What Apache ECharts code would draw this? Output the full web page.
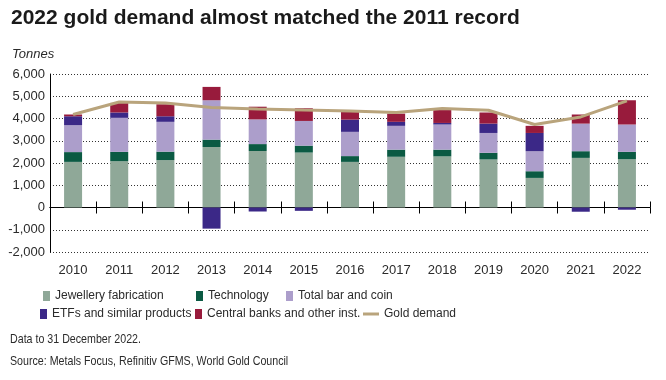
<!DOCTYPE html>
<html>
<head>
<meta charset="utf-8">
<script src="https://cdn.jsdelivr.net/npm/echarts@6/dist/echarts.min.js"></script>
<style>
html,body{margin:0;padding:0;background:#fff;}
#c{width:666px;height:380px;}
</style>
</head>
<body>
<div id="c"></div>
<script>
var years = ['2010','2011','2012','2013','2014','2015','2016','2017','2018','2019','2020','2021','2022'];
var jewellery = [2050, 2080, 2130, 2720, 2540, 2470, 2050, 2280, 2300, 2160, 1330, 2230, 2170];
var technology = [440, 420, 380, 330, 310, 310, 260, 320, 300, 300, 300, 300, 330];
var barCoin = [1210, 1530, 1340, 1770, 1110, 1110, 1090, 1070, 1130, 890, 900, 1240, 1230];
var etfs = [400, 240, 250, -950, -180, -150, 550, 180, 70, 420, 820, -190, -100];
var centralBanks = [80, 430, 540, 600, 570, 570, 350, 370, 580, 500, 320, 410, 1090];
var goldDemand = [4180, 4740, 4700, 4490, 4430, 4380, 4340, 4270, 4450, 4370, 3730, 4070, 4790];
var yTicks = [-2000, -1000, 0, 1000, 2000, 3000, 4000, 5000, 6000];

var FONT = 'Liberation Sans';
var TXT = '#2b2b2b';
var colors = {
  jew: '#8fa898',
  tech: '#0b5a43',
  bar: '#ac9ecb',
  etf: '#3b2887',
  cb: '#981b3c',
  line: '#b9a47c'
};

function legendItem(name, left, top, opts) {
  var o = {
    data: [name],
    left: left,
    top: top,
    orient: 'horizontal',
    itemWidth: 7,
    itemHeight: 10,
    itemGap: 0,
    padding: 0,
    selectedMode: false,
    icon: 'rect',
    textStyle: { fontFamily: FONT, fontSize: 12, color: TXT, padding: [0, 0, 0, 0] }
  };
  if (opts) { for (var k in opts) o[k] = opts[k]; }
  return o;
}

var GRID = { left: 50, right: 16, top: 74, bottom: 128, containLabel: false };

var chart = echarts.init(document.getElementById('c'), null, { renderer: 'canvas' });
var option = {
  animation: false,
  backgroundColor: '#ffffff',
  title: {
    text: '2022 gold demand almost matched the 2011 record',
    left: 11,
    top: 8,
    padding: 0,
    textStyle: { fontFamily: FONT, fontWeight: 'bold', fontSize: 21, color: '#1a1a1a' }
  },
  graphic: [
    { type: 'text', left: 12, top: 48, style: { text: 'Tonnes', font: 'italic 13px "' + FONT + '"', fill: TXT } },
    { type: 'text', x: 10, y: 333, scaleX: 0.82, originX: 0, originY: 0,
      style: { x: 0, y: 0, text: 'Data to 31 December 2022.', font: '13px "' + FONT + '"', fill: TXT, verticalAlign: 'top' } },
    { type: 'text', x: 10, y: 355, scaleX: 0.82, originX: 0, originY: 0,
      style: { x: 0, y: 0, text: 'Source: Metals Focus, Refinitiv GFMS, World Gold Council', font: '13px "' + FONT + '"', fill: TXT, verticalAlign: 'top' } }
  ],
  legend: [
    legendItem('Jewellery fabrication', 43, 290),
    legendItem('Technology', 196, 290),
    legendItem('Total bar and coin', 286, 290),
    legendItem('ETFs and similar products', 40, 308),
    legendItem('Central banks and other inst.', 195, 308),
    legendItem('Gold demand', 363, 308, { itemWidth: 16, itemHeight: 3 })
  ],
  grid: [GRID, GRID],
  xAxis: [
    {
      gridIndex: 0,
      type: 'category',
      data: years,
      position: 'bottom',
      boundaryGap: true,
      axisLine: { show: false, onZero: false },
      axisTick: { show: false },
      axisLabel: { margin: 12, fontFamily: FONT, fontSize: 13, color: TXT },
      splitLine: { show: false }
    },
    {
      gridIndex: 0,
      type: 'category',
      data: years,
      position: 'top',
      boundaryGap: true,
      axisLine: { show: true, onZero: true, lineStyle: { color: '#000', width: 1 } },
      axisTick: { show: true, length: 6, lineStyle: { color: '#000', width: 1 } },
      axisLabel: { show: false },
      splitLine: { show: false }
    },
    {
      gridIndex: 1,
      type: 'category',
      data: years,
      position: 'bottom',
      boundaryGap: true,
      axisLine: { show: true, onZero: true, lineStyle: { color: '#000', width: 1 } },
      axisTick: { show: true, length: 6, lineStyle: { color: '#000', width: 1 } },
      axisLabel: { show: false },
      splitLine: { show: false }
    }
  ],
  yAxis: [
    {
      gridIndex: 0,
      type: 'value',
      min: yTicks[0],
      max: yTicks[yTicks.length - 1],
      interval: 1000,
      axisLine: { show: true, lineStyle: { color: '#000', width: 1 } },
      axisTick: { show: false },
      axisLabel: {
        margin: 5,
        fontFamily: FONT,
        fontSize: 13,
        color: TXT,
        formatter: function (v) { return v.toLocaleString('en-US'); }
      },
      splitLine: { show: true, lineStyle: { color: '#333', width: 1, type: [1, 2] } }
    },
    {
      gridIndex: 1,
      type: 'value',
      min: yTicks[0],
      max: yTicks[yTicks.length - 1],
      interval: 1000,
      axisLine: { show: false },
      axisTick: { show: false },
      axisLabel: { show: false },
      splitLine: { show: false }
    }
  ],
  series: [
    { name: 'Jewellery fabrication', type: 'bar', stack: 'd', barWidth: 18, data: jewellery, itemStyle: { color: colors.jew } },
    { name: 'Technology', type: 'bar', stack: 'd', barWidth: 18, data: technology, itemStyle: { color: colors.tech } },
    { name: 'Total bar and coin', type: 'bar', stack: 'd', barWidth: 18, data: barCoin, itemStyle: { color: colors.bar } },
    { name: 'ETFs and similar products', type: 'bar', stack: 'd', barWidth: 18, data: etfs, itemStyle: { color: colors.etf } },
    { name: 'Central banks and other inst.', type: 'bar', stack: 'd', barWidth: 18, data: centralBanks, itemStyle: { color: colors.cb } },
    { name: 'Gold demand', type: 'line', data: goldDemand, symbol: 'none', z: 5,
      lineStyle: { color: colors.line, width: 3 }, itemStyle: { color: colors.line } }
  ]
};
chart.setOption(option);
</script>
</body>
</html>
